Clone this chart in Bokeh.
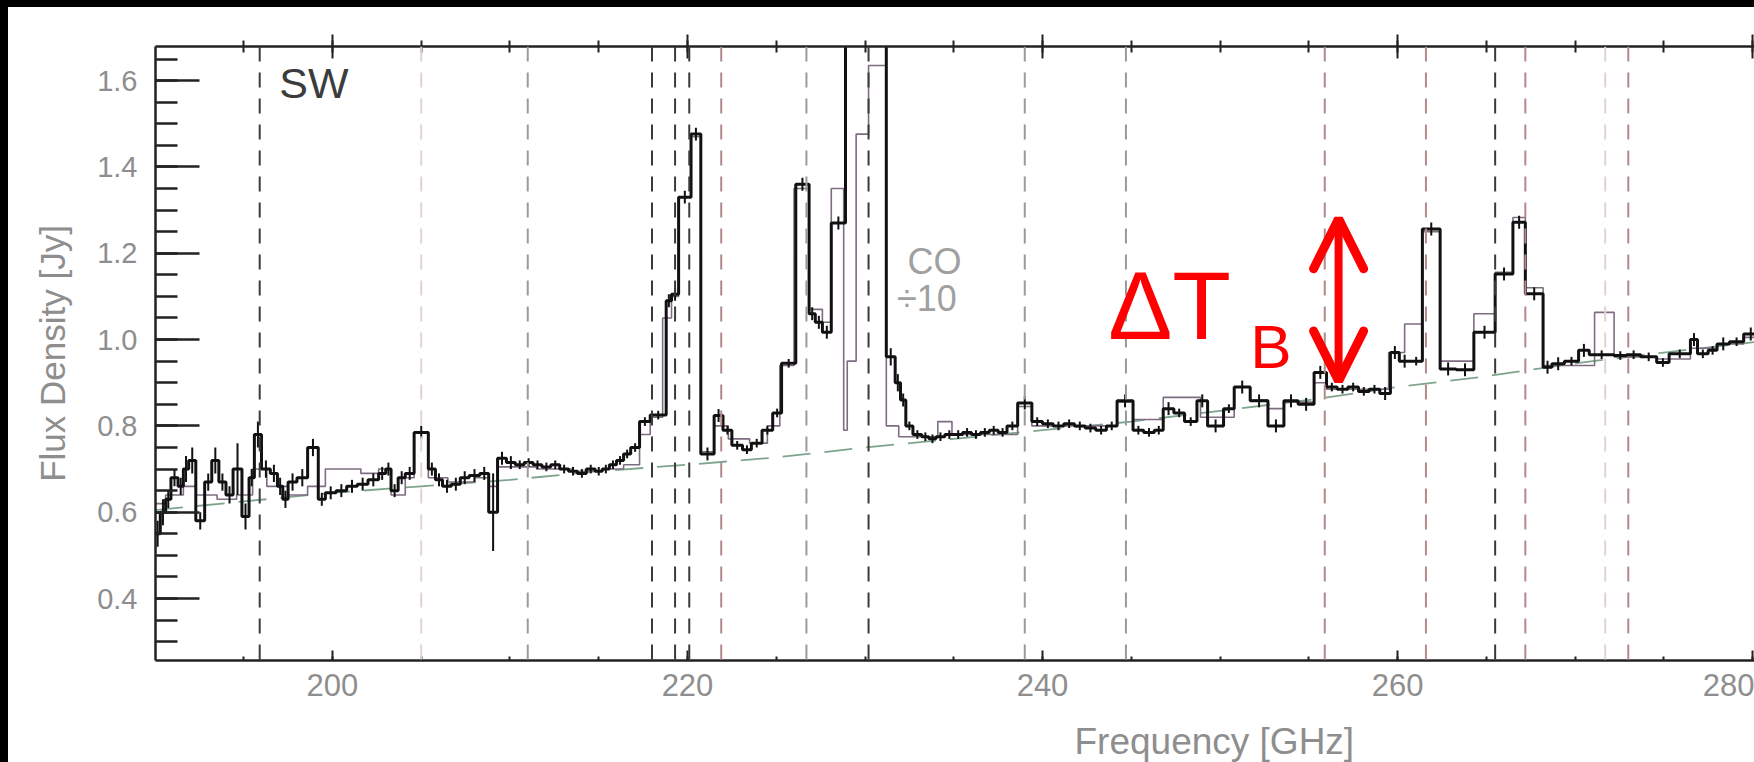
import math
from bokeh.plotting import figure
from bokeh.models import (Range1d, LinearAxis, SingleIntervalTicker, FixedTicker, Label, Arrow,
                          Title, OpenHead, Span, PrintfTickFormatter, CustomJSTickFormatter, Div)
from bokeh.layouts import column, row
from bokeh.embed import file_html
from bokeh.resources import INLINE

# ---------------- data ----------------
# observed spectrum: left bin edges [GHz], flux [Jy], 1-sigma error [Jy]
obs_freq_lo = [190.0, 190.3, 190.6, 190.9, 191.3, 191.6, 191.9, 192.3, 192.8, 193.2,
               193.6, 194.0, 194.4, 194.9, 195.3, 195.6, 196.0, 196.5, 196.9, 197.2,
               197.5, 198.0, 198.6, 199.2, 199.6, 200.2, 200.8, 201.4, 202.0, 202.6,
               203.0, 203.3, 203.7, 204.1, 204.6, 205.4, 205.8, 206.2, 206.7, 207.2,
               207.7, 208.3, 208.8, 209.3, 209.8, 210.3, 210.8, 211.3, 211.8, 212.3,
               212.8, 213.3, 213.8, 214.3, 214.8, 215.2, 215.6, 216.0, 216.4, 216.8,
               217.3, 217.9, 218.8, 219.1, 219.5, 220.2, 220.75, 221.5, 222.0, 222.5,
               223.1, 223.6, 224.2, 224.8, 225.3, 226.1, 226.85, 227.2, 227.6, 228.1,
               228.9, 231.2, 231.7, 232.0, 232.3, 232.7, 233.2, 233.6, 234.0, 234.5,
               235.0, 235.5, 236.0, 236.5, 237.0, 237.5, 238.0, 238.6, 239.4, 240.0,
               240.6, 241.2, 241.8, 242.4, 243.0, 243.6, 244.2, 245.1, 245.7, 246.3,
               246.8, 247.4, 248.0, 248.7, 249.3, 250.2, 250.8, 251.7, 252.7, 253.6,
               254.4, 255.3, 256.0, 256.6, 257.2, 257.8, 258.4, 259.0, 259.6, 260.1,
               260.7, 261.4, 262.4, 263.3, 264.3, 265.5, 266.5, 267.2, 268.2, 268.7,
               269.4, 270.2, 270.8, 272.2, 272.9, 273.7, 274.6, 275.3, 276.5, 276.9,
               277.5, 278.0, 278.7, 279.5]
obs_freq_end = 280.3
obs_flux = [0.55, 0.60, 0.63, 0.68, 0.66, 0.70, 0.72, 0.58, 0.67, 0.72,
            0.67, 0.64, 0.70, 0.59, 0.68, 0.78, 0.70, 0.69, 0.66, 0.63,
            0.67, 0.68, 0.75, 0.63, 0.645, 0.65, 0.66, 0.665, 0.675, 0.69,
            0.70, 0.65, 0.68, 0.69, 0.785, 0.70, 0.675, 0.66, 0.665, 0.68,
            0.685, 0.69, 0.60, 0.725, 0.715, 0.71, 0.715, 0.71, 0.705, 0.71,
            0.70, 0.695, 0.69, 0.70, 0.695, 0.70, 0.71, 0.72, 0.735, 0.75,
            0.81, 0.825, 1.09, 1.105, 1.33, 1.476, 0.735, 0.824, 0.79, 0.755,
            0.745, 0.76, 0.79, 0.83, 0.945, 1.36, 1.06, 1.04, 1.017, 1.27,
            2.50, 0.96, 0.90, 0.86, 0.80, 0.78, 0.775, 0.77, 0.775, 0.78,
            0.78, 0.785, 0.78, 0.785, 0.79, 0.785, 0.80, 0.853, 0.81, 0.805,
            0.80, 0.805, 0.80, 0.795, 0.79, 0.80, 0.858, 0.79, 0.785, 0.79,
            0.84, 0.83, 0.81, 0.858, 0.80, 0.84, 0.89, 0.858, 0.80, 0.858,
            0.85, 0.924, 0.89, 0.885, 0.89, 0.88, 0.885, 0.875, 0.97, 0.95,
            0.95, 1.256, 0.932, 0.93, 1.017, 1.152, 1.272, 1.106, 0.936, 0.944,
            0.95, 0.975, 0.965, 0.963, 0.965, 0.96, 0.947, 0.967, 1.00, 0.967,
            0.975, 0.99, 0.995, 1.013]
obs_err = [0.03, 0.03, 0.02, 0.02, 0.02, 0.03, 0.03, 0.02, 0.02, 0.03,
           0.02, 0.02, 0.06, 0.03, 0.02, 0.03, 0.02, 0.02, 0.02, 0.02,
           0.02, 0.02, 0.02, 0.015, 0.015, 0.015, 0.015, 0.015, 0.015, 0.015,
           0.015, 0.015, 0.015, 0.015, 0.015, 0.015, 0.015, 0.015, 0.015, 0.015,
           0.015, 0.015, 0.09, 0.015, 0.015, 0.01, 0.01, 0.01, 0.01, 0.01,
           0.01, 0.01, 0.01, 0.01, 0.01, 0.01, 0.01, 0.01, 0.01, 0.01,
           0.01, 0.01, 0.015, 0.015, 0.015, 0.015, 0.015, 0.015, 0.01, 0.01,
           0.01, 0.01, 0.01, 0.01, 0.01, 0.015, 0.015, 0.015, 0.015, 0.015,
           0.0, 0.02, 0.02, 0.015, 0.01, 0.01, 0.01, 0.01, 0.01, 0.01,
           0.01, 0.01, 0.01, 0.01, 0.01, 0.01, 0.01, 0.015, 0.01, 0.01,
           0.01, 0.01, 0.01, 0.01, 0.01, 0.01, 0.015, 0.01, 0.01, 0.01,
           0.015, 0.01, 0.01, 0.015, 0.015, 0.01, 0.015, 0.015, 0.015, 0.015,
           0.015, 0.015, 0.01, 0.01, 0.01, 0.01, 0.01, 0.015, 0.015, 0.015,
           0.01, 0.015, 0.015, 0.015, 0.015, 0.015, 0.015, 0.015, 0.015, 0.015,
           0.01, 0.015, 0.01, 0.01, 0.01, 0.01, 0.01, 0.01, 0.015, 0.01,
           0.01, 0.015, 0.01, 0.015]

# model spectrum (CO divided by 10): left bin edges and flux
model_freq_lo = [190.0, 190.6, 191.6, 192.3, 193.5, 194.6, 195.5, 196.3, 197.5, 198.6,
                 199.6, 201.6, 202.6, 203.3, 204.1, 204.6, 205.4, 206.5, 208.0, 208.8,
                 209.3, 211.5, 213.5, 215.2, 216.4, 217.3, 217.9, 218.6, 219.1, 219.5,
                 220.2, 220.75, 221.5, 222.3, 223.5, 224.5, 225.2, 226.0, 226.85, 227.6,
                 228.1, 228.8, 229.0, 229.5, 230.2, 231.2, 231.9, 234.1, 234.9, 238.6,
                 239.4, 244.2, 245.1, 246.8, 248.9, 250.8, 251.7, 252.7, 253.6, 255.3,
                 256.0, 259.5, 260.4, 261.4, 262.4, 264.3, 265.5, 266.5, 267.2, 268.2,
                 271.1, 272.2, 274.6, 276.5, 278.0, 279.5]
model_freq_end = 280.3
model_flux = [0.62, 0.64, 0.66, 0.64, 0.63, 0.64, 0.70, 0.66, 0.64, 0.66,
              0.70, 0.69, 0.70, 0.64, 0.68, 0.785, 0.68, 0.67, 0.68, 0.66,
              0.705, 0.70, 0.695, 0.70, 0.71, 0.78, 0.82, 1.05, 1.10, 1.33,
              1.47, 0.74, 0.80, 0.77, 0.76, 0.80, 0.94, 1.35, 1.07, 1.04,
              1.35, 0.79, 0.95, 1.476, 1.635, 0.80, 0.775, 0.81, 0.78, 0.845,
              0.80, 0.855, 0.815, 0.866, 0.82, 0.89, 0.86, 0.84, 0.855, 0.90,
              0.885, 0.97, 1.036, 1.25, 0.95, 1.06, 1.156, 1.283, 1.12, 0.94,
              1.063, 0.96, 0.955, 0.98, 0.99, 1.005]

# continuum
cont_freq = [190, 195, 200, 205, 210, 215, 220, 225, 230, 235, 240, 245, 250, 255, 260,
             265, 270, 275, 280.3]
cont_flux = [0.605, 0.625, 0.645, 0.66, 0.675, 0.695, 0.71, 0.727, 0.75, 0.77, 0.79,
             0.81, 0.835, 0.86, 0.89, 0.915, 0.945, 0.97, 0.995]

# line identifications (vertical dashed markers)
line_freq = [195.9, 205.0, 211.0, 218.0, 219.3, 220.1, 221.9, 226.7, 230.2, 239.0,
             244.7, 255.9, 261.6, 265.5, 267.2, 271.7, 273.0]
line_kind = ["k", "f", "g", "k", "k", "k", "r", "g", "k", "g",
             "g", "r", "r", "k", "r", "f", "r"]

x_tick_step = 20
y_tick_step = 0.2

# ---------------- styling ----------------
kind_color = {"k": "#3a3a3a", "r": "#b38a8c", "g": "#9a9a9a", "f": "#e2d2d2"}
label_gray = "#8e8e8e"
FONT = "Liberation Sans"

p = figure(width=1746, height=755,
           x_range=Range1d(190.03, 280.11), y_range=Range1d(0.2565, 1.679),
           output_backend="svg", toolbar_location=None,
           min_border_left=147, min_border_right=0, min_border_top=39, min_border_bottom=102)
p.outline_line_color = None
p.xgrid.visible = False
p.ygrid.visible = False
p.background_fill_color = "white"
p.border_fill_color = "white"

# bottom axis
xa = p.xaxis[0]
xa.ticker = SingleIntervalTicker(interval=x_tick_step, num_minor_ticks=4)
xa.axis_line_width = 2.5
xa.axis_line_color = "#222222"
xa.major_tick_in = 10
xa.major_tick_out = 0
xa.minor_tick_in = 4
xa.minor_tick_out = 0
xa.major_tick_line_width = 2
xa.minor_tick_line_width = 2
xa.major_tick_line_color = "#222222"
xa.minor_tick_line_color = "#222222"
xa.major_label_text_font = FONT
xa.major_label_text_font_size = "31px"
xa.major_label_text_color = label_gray
xa.major_label_standoff = 13

# blank spacer axis (white tick on white, no labels) to push the x title down
spacer_axis = LinearAxis(ticker=FixedTicker(ticks=[250], minor_ticks=[]),
                         formatter=CustomJSTickFormatter(code="return ''"),
                         axis_line_color=None, major_tick_line_color="white",
                         major_tick_line_width=1, minor_tick_line_color=None,
                         major_tick_in=0, major_tick_out=20, minor_tick_in=0,
                         minor_tick_out=0, major_label_standoff=0)
p.add_layout(spacer_axis, "below")

# x axis title, placed where the reference has it (right of centre)
p.add_layout(Title(text="Frequency [GHz]", align="left", offset=919, standoff=0,
                   text_font=FONT, text_font_size="37px", text_font_style="normal",
                   text_color=label_gray), "below")

# top axis (no labels)
ta = LinearAxis(ticker=SingleIntervalTicker(interval=x_tick_step, num_minor_ticks=4),
                formatter=CustomJSTickFormatter(code="return ''"),
                major_label_standoff=0,
                axis_line_width=2.5, axis_line_color="#222222",
                major_tick_in=12, major_tick_out=12, minor_tick_in=6, minor_tick_out=6,
                major_tick_line_width=2, minor_tick_line_width=2,
                major_tick_line_color="#222222", minor_tick_line_color="#222222")
p.add_layout(ta, "above")

# left axis
ya = p.yaxis[0]
ya.ticker = SingleIntervalTicker(interval=y_tick_step, num_minor_ticks=4)
ya.formatter = PrintfTickFormatter(format="%.1f")
ya.axis_line_width = 2.5
ya.axis_line_color = "#222222"
ya.major_tick_in = 44
ya.major_tick_out = 0
ya.minor_tick_in = 22
ya.minor_tick_out = 0
ya.major_tick_line_width = 2.5
ya.minor_tick_line_width = 2.5
ya.major_tick_line_color = "#222222"
ya.minor_tick_line_color = "#222222"
ya.major_label_text_font = FONT
ya.major_label_text_font_size = "29px"
ya.major_label_text_color = label_gray
ya.major_label_standoff = 18
ya.axis_label = "Flux Density [Jy]"
ya.axis_label_text_font = FONT
ya.axis_label_text_font_size = "35px"
ya.axis_label_text_font_style = "normal"
ya.axis_label_text_color = label_gray
ya.axis_label_standoff = 22

# vertical dashed line markers
for f, k in zip(line_freq, line_kind):
    p.add_layout(Span(location=f, dimension="height", line_color=kind_color[k],
                      line_width=2, line_dash="15 11"))

# continuum
p.line(cont_freq, cont_flux, line_color="#7fa48e", line_width=1.8, line_dash="28 14")

# model (thin)
mx = model_freq_lo + [model_freq_end]
my = model_flux + [model_flux[-1]]
p.step(mx, my, mode="after", line_color="#7e6c82", line_width=1.6)

# observed (thick) with error bars
ox = obs_freq_lo + [obs_freq_end]
oy = obs_flux + [obs_flux[-1]]
p.step(ox, oy, mode="after", line_color="#111111", line_width=3)
edges_hi = obs_freq_lo[1:] + [obs_freq_end]
cx, y0, y1 = [], [], []
for lo, hi, fl, er in zip(obs_freq_lo, edges_hi, obs_flux, obs_err):
    if er > 0:
        cx.append(0.5 * (lo + hi))
        y0.append(fl - er)
        y1.append(fl + er)
p.segment(x0=cx, y0=y0, x1=cx, y1=y1, line_color="#111111", line_width=2)

# texts
p.add_layout(Label(x=197.0, y=1.539, text="SW", text_font=FONT, text_font_size="43px",
                   text_color="#3c3c3c"))
p.add_layout(Label(x=232.4, y=1.134, text="CO", text_font=FONT, text_font_size="36px",
                   text_color="#a0a0a0"))
p.add_layout(Label(x=231.8, y=1.047, text="÷10", text_font=FONT, text_font_size="36px",
                   text_color="#a0a0a0"))

# Delta T_B annotation
p.add_layout(Label(x=243.7, y=0.956, text="ΔT", text_font=FONT, text_font_size="96px",
                   text_color="#ff0000"))
p.add_layout(Label(x=251.7, y=0.904, text="B", text_font=FONT, text_font_size="62px",
                   text_color="#ff0000"))
p.add_layout(Arrow(x_start=256.68, y_start=0.904, x_end=256.68, y_end=1.28,
                   line_color="#ff0000", line_width=8,
                   start=OpenHead(size=50, line_color="#ff0000", line_width=9, line_cap="round"),
                   end=OpenHead(size=50, line_color="#ff0000", line_width=9, line_cap="round")))

left_bar = Div(width=8, height=762, margin=0, styles={"background-color": "black"})
top_bar = Div(width=1746, height=7, margin=0, styles={"background-color": "black"})
layout = row(left_bar, column(top_bar, p, spacing=0), spacing=0)

open("out.html", "w").write(file_html(layout, INLINE))
